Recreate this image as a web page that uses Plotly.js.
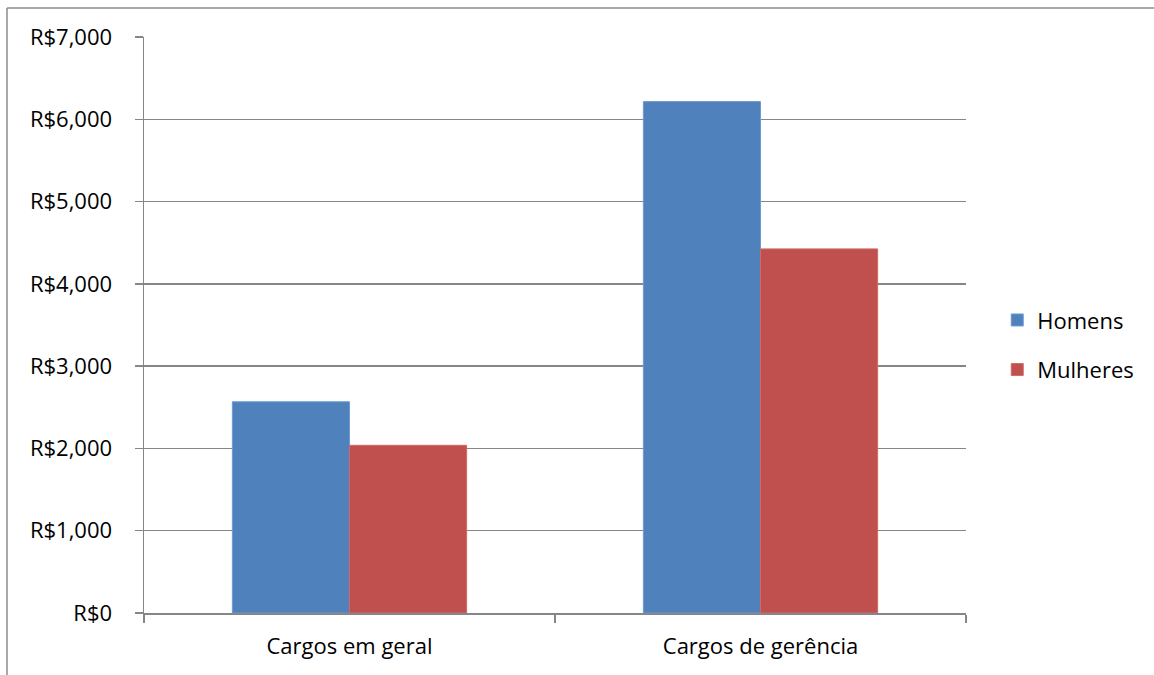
<!DOCTYPE html>
<html>
<head>
<meta charset="utf-8">
<script src="https://cdn.plot.ly/plotly-3.0.1.min.js"></script>
<style>html,body{margin:0;padding:0;background:#fff;}#chart{width:1154px;height:675px;}</style>
</head>
<body>
<div id="chart"></div>
<script>
const categories = ["Cargos em geral", "Cargos de gerência"];
const homens = [2567, 6215];
const mulheres = [2038, 4425];
const yTickVals = [0, 1000, 2000, 3000, 4000, 5000, 6000, 7000];
const yTickText = ["R$0", "R$1,000", "R$2,000", "R$3,000", "R$4,000", "R$5,000", "R$6,000", "R$7,000"];

const fontFam = "Open Sans, Noto Sans, sans-serif";
const fs = 22;
const traces = [
  {type: "bar", name: "Homens", legendgroup: "h", x: categories, y: homens,
   marker: {color: "#4F81BD", line: {color: "#6f9bd0", width: 1}}},
  {type: "bar", name: "Mulheres", legendgroup: "m", x: categories, y: mulheres,
   marker: {color: "#C0504D", line: {color: "#d06a67", width: 1}}}
];
const layout = {
  width: 1154, height: 675,
  margin: {l: 144, r: 188, t: 37, b: 62},
  paper_bgcolor: "#fff", plot_bgcolor: "#fff",
  font: {family: fontFam, size: fs, color: "#000"},
  barmode: "group", bargap: 0.43, bargroupgap: 0,
  showlegend: true,
  legend: {x: 1.038, y: 0.465, xanchor: "left", yanchor: "middle",
           font: {family: fontFam, size: fs}, tracegroupgap: 18, traceorder: "grouped",
           itemwidth: 30},
  xaxis: {type: "category", showgrid: false, showline: true, linecolor: "#868686", linewidth: 1.5,
          ticks: "outside", tickson: "boundaries", ticklen: 8, tickcolor: "#868686", tickwidth: 1.5,
          ticklabelstandoff: 13, tickfont: {family: fontFam, size: fs}},
  yaxis: {range: [0, 7000], tickvals: yTickVals, ticktext: yTickText,
          showgrid: true, gridcolor: "#868686", gridwidth: 1.5,
          showline: true, linecolor: "#868686", linewidth: 1.5,
          ticks: "outside", ticklen: 8, tickcolor: "#868686", tickwidth: 1.5,
          ticklabelstandoff: 18, zeroline: false, tickfont: {family: fontFam, size: fs}},
  shapes: [
    {type: "line", xref: "paper", yref: "paper", x0: (7-144)/822, x1: (1154-144)/822,
     y0: (613-8)/576, y1: (613-8)/576, line: {color: "#8c8c8c", width: 1.5}},
    {type: "line", xref: "paper", yref: "paper", x0: (7-144)/822, x1: (7-144)/822,
     y0: (613-8)/576, y1: (613-676)/576, line: {color: "#8c8c8c", width: 1.5}}
  ]
};
Plotly.newPlot("chart", traces, layout, {displayModeBar: false, staticPlot: true});
</script>
</body>
</html>
